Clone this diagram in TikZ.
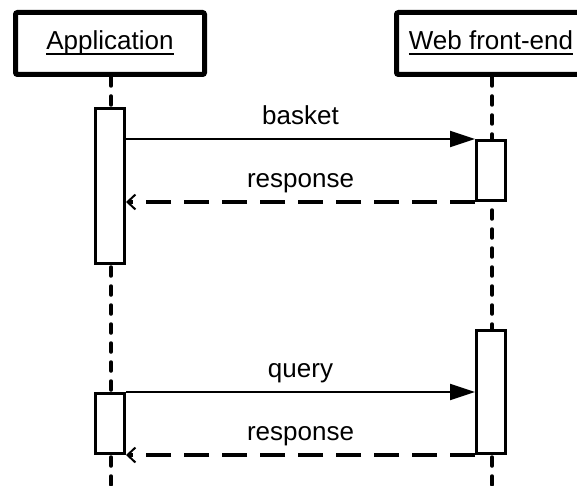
\documentclass[tikz,border=0pt]{standalone}
\usepackage{fontspec}
\setmainfont{Liberation Sans}
\usetikzlibrary{arrows.meta}

% underlined text with a rule just below the baseline
\newcommand{\ultext}[1]{\setbox0\hbox{#1}\rlap{\rule[-5pt]{\wd0}{1.7pt}}\box0}

\tikzset{
  every node/.style={font=\fontsize{26pt}{30pt}\selectfont},
  actor/.style={draw, line width=5pt, rounded corners=2pt, fill=white,
    minimum width=189pt, minimum height=62pt, inner sep=0pt,
    text height=19pt, text depth=6pt},
  lifeline/.style={line width=3.5pt, line cap=round, dash pattern=on 9pt off 10pt},
  activation/.style={draw, line width=2.7pt, fill=white, inner sep=0pt,
    minimum width=29.3pt},
  callmsg/.style={line width=2.2pt, -{Triangle[length=25pt,width=16pt]}},
  replymsg/.style={line width=3.3pt, dash pattern=on 25pt off 13pt,
    -{Straight Barb[length=8pt,width=15pt,line width=2pt]}},
  msglabel/.style={anchor=base, inner sep=0pt},
}

\begin{document}
\begin{tikzpicture}[x=1pt, y=-1pt]
  \useasboundingbox (0,0) rectangle (577,486);
  \clip (0,0) rectangle (577,486);

  % participants (the second box runs past the right edge)
  \node[actor] (app) at (110,43.5) {\ultext{Application}};
  \node[actor, anchor=west, minimum width=260pt] (web) at (394,43.5)
    {\makebox[189pt]{\ultext{Web front-end}}\hspace*{71pt}};

  % lifelines
  \coordinate (append) at (111,492);
  \coordinate (webend) at (492,492);
  \draw[lifeline] (app.south -| append) -- (append);
  \draw[lifeline] (web.south -| webend) -- (webend);

  % activation bars
  \node[activation, minimum height=155.3pt] (a1) at (110,186) {};
  \node[activation, minimum height=60.3pt]  (w1) at (491,170.5) {};
  \node[activation, minimum height=123.3pt] (w2) at (491,392) {};
  \node[activation, minimum height=60.3pt]  (a2) at (110,423.5) {};

  % first exchange
  \draw[callmsg] (a1.east |- w1.north west) -- (w1.north west);
  \draw[replymsg] (w1.south west) -- (a1.east |- w1.south west);
  \node[msglabel] (lbasket) at (300.5,125) {basket};
  \node[msglabel] (lresp1) at (300.5,188) {response};

  % second exchange
  \draw[callmsg] (a2.north east) -- (w2.west |- a2.north east);
  \draw[replymsg] (w2.south west) -- (a2.south east);
  \node[msglabel] (lquery) at (300.5,377) {query};
  \node[msglabel] (lresp2) at (300.5,440) {response};
\end{tikzpicture}
\end{document}
